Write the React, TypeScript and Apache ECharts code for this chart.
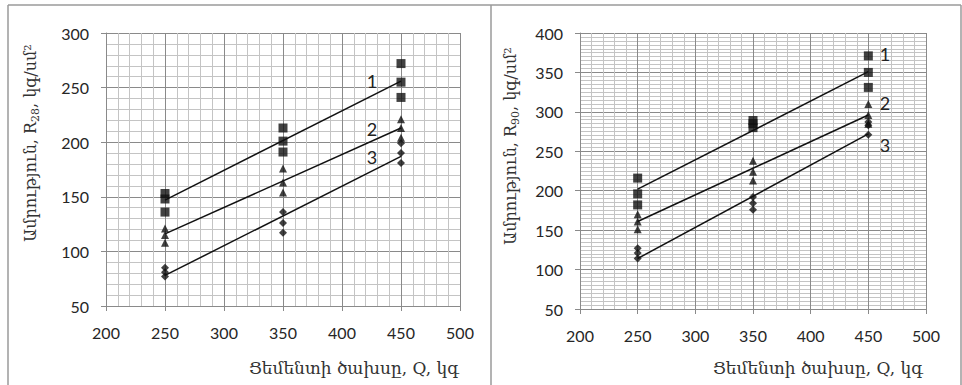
import React, { useEffect, useRef } from 'react';
import * as echarts from 'echarts';

// Cement content (x), kg
const cementQ = [250, 350, 450];
const trendQ = [250, 450];

// R28 strength, kg/cm2 — three measurements per cement content
const r28Squares = [[153, 148, 136], [213, 201, 191], [272, 255, 241]];
const r28Triangles = [[121, 115, 108], [176, 163, 154], [221, 213, 204]];
const r28Diamonds = [[85, 81, 77], [136, 126, 117], [199, 190, 181]];
const r28Line1 = [147, 256];
const r28Line2 = [116, 213];
const r28Line3 = [78, 187];

// R90 strength, kg/cm2
const r90Squares = [[216, 196, 182], [289, 285, 280], [371, 350, 331]];
const r90Triangles = [[170, 161, 151], [238, 224, 213], [310, 296, 285]];
const r90Diamonds = [[127, 121, 114], [192, 184, 176], [287, 283, 271]];
const r90Line1 = [202, 351];
const r90Line2 = [161, 296];
const r90Line3 = [114, 272];

const curveLabels = ['1', '2', '3'];
const xTitle = 'Ցեմենտի ծախսը, Q, կգ';
const yTitleLeft = ['Ամրություն, R', '28', ', կգ/սմ²'];
const yTitleRight = ['Ամրություն, R', '90', ', կգ/սմ²'];

const toPoints = (vals: number[][]) =>
  vals.flatMap((group, i) => group.map((v) => [cementQ[i], v]));
const toLine = (vals: number[]) => vals.map((v, i) => [trendQ[i], v]);

const NUM_FONT = 'Lato';
const ARM_FONT = 'DejaVu Serif';
const MAJOR = '#8a8a8a';
const MINOR = '#c4c4c4';

export default function App() {
  const ref = useRef<HTMLDivElement>(null);

  useEffect(() => {
    if (!ref.current) return;
    const chart = echarts.init(ref.current, undefined, { renderer: 'svg' });

    const xAxisBase = (gridIndex: number) => ({
      type: 'value',
      gridIndex,
      min: 200,
      max: 500,
      interval: 50,
      axisLine: { show: true, onZero: false, lineStyle: { color: MAJOR, width: 1 } },
      axisTick: { show: true, length: 5, lineStyle: { color: MAJOR } },
      minorTick: { show: false, splitNumber: 5 },
      minorSplitLine: { show: true, lineStyle: { color: MINOR, width: 1 } },
      splitLine: { show: true, lineStyle: { color: MAJOR, width: 1 } },
      axisLabel: { fontSize: 16, fontFamily: NUM_FONT, color: '#262626', margin: 18 },
    });
    const yAxisBase = (gridIndex: number, max: number, minorSplit: number) => ({
      type: 'value',
      gridIndex,
      min: 50,
      max,
      interval: 50,
      axisLine: { show: true, onZero: false, lineStyle: { color: MAJOR, width: 1 } },
      axisTick: { show: true, length: 5, lineStyle: { color: MAJOR } },
      minorTick: { show: false, splitNumber: minorSplit },
      minorSplitLine: { show: true, lineStyle: { color: MINOR, width: 1 } },
      splitLine: { show: true, lineStyle: { color: MAJOR, width: 1 } },
      axisLabel: { fontSize: 16, fontFamily: NUM_FONT, color: '#262626', margin: 17 },
    });

    const scatter = (idx: number, data: number[][], symbol: string, size: number) => ({
      type: 'scatter',
      xAxisIndex: idx,
      yAxisIndex: idx,
      data: toPoints(data),
      symbol,
      symbolSize: size,
      itemStyle: { color: '#111' },
      z: 3,
    });
    const line = (idx: number, data: number[]) => ({
      type: 'line',
      xAxisIndex: idx,
      yAxisIndex: idx,
      data: toLine(data),
      showSymbol: false,
      symbol: 'none',
      lineStyle: { color: '#111', width: 1.5 },
      z: 4,
    });

    const numText = (text: string, x: number, y: number) => ({
      type: 'text',
      x,
      y,
      style: {
        text,
        fontSize: 18,
        fontFamily: NUM_FONT,
        fill: '#222',
        align: 'center',
        verticalAlign: 'middle',
      },
      z: 10,
    });
    const yTitle = (parts: string[], x: number, y: number) => ({
      type: 'text',
      x,
      y,
      rotation: Math.PI / 2,
      style: {
        text: `{a|${parts[0]}}{s|${parts[1]}}{a|${parts[2]}}`,
        align: 'center',
        verticalAlign: 'middle',
        rich: {
          a: { fontSize: 16, fontFamily: ARM_FONT, fill: '#333', lineHeight: 22 },
          s: { fontSize: 11, fontFamily: ARM_FONT, fill: '#333', lineHeight: 12, verticalAlign: 'bottom' },
        },
      },
      z: 10,
    });
    const xTitleText = (x: number, y: number) => ({
      type: 'text',
      x,
      y,
      style: {
        text: xTitle,
        fontSize: 17,
        fontFamily: ARM_FONT,
        fill: '#333',
        align: 'center',
        verticalAlign: 'middle',
      },
      z: 10,
    });
    const border = (x1: number, y1: number, x2: number, y2: number) => ({
      type: 'line',
      shape: { x1, y1, x2, y2 },
      style: { stroke: '#9a9a9a', lineWidth: 1.5 },
      z: 10,
    });

    chart.setOption({
      animation: false,
      backgroundColor: '#fff',
      grid: [
        { left: 106, top: 33, width: 354, height: 273 },
        { left: 580, top: 33, width: 346, height: 276 },
      ],
      xAxis: [xAxisBase(0), xAxisBase(1)],
      yAxis: [yAxisBase(0, 300, 5), yAxisBase(1, 400, 10)],
      series: [
        scatter(0, r28Squares, 'rect', 9),
        scatter(0, r28Triangles, 'triangle', 8),
        scatter(0, r28Diamonds, 'diamond', 8),
        line(0, r28Line1),
        line(0, r28Line2),
        line(0, r28Line3),
        scatter(1, r90Squares, 'rect', 9),
        scatter(1, r90Triangles, 'triangle', 8),
        scatter(1, r90Diamonds, 'diamond', 8),
        line(1, r90Line1),
        line(1, r90Line2),
        line(1, r90Line3),
      ],
      graphic: [
        border(8, 5, 961, 5),
        border(8, 5, 8, 385),
        border(491, 5, 491, 385),
        border(961, 5, 961, 385),
        numText(curveLabels[0], 372, 81),
        numText(curveLabels[1], 372, 129),
        numText(curveLabels[2], 372, 157),
        numText(curveLabels[0], 885, 54),
        numText(curveLabels[1], 885, 103),
        numText(curveLabels[2], 885, 145),
        yTitle(yTitleLeft, 30, 143),
        yTitle(yTitleRight, 510, 146),
        xTitleText(354, 368),
        xTitleText(818, 368),
      ],
    });

    return () => chart.dispose();
  }, []);

  return (
    <div
      ref={ref}
      style={{ position: 'absolute', left: 0, top: 0, width: 962, height: 385 }}
    />
  );
}
